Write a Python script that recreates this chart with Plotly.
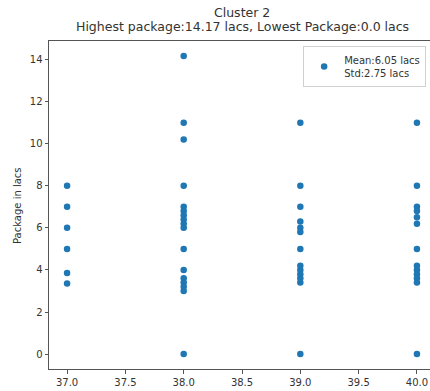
import plotly.graph_objects as go

# Data
age_37 = [8.0, 7.0, 6.0, 5.0, 3.85, 3.35]
age_38 = [14.17, 11.0, 10.2, 8.0, 7.0, 6.8, 6.6, 6.4, 6.2, 6.0, 5.0, 4.0, 3.6, 3.4, 3.2, 3.0, 0.0]
age_39 = [11.0, 8.0, 7.0, 6.3, 6.0, 5.8, 5.0, 4.2, 4.0, 3.8, 3.6, 3.4, 0.0]
age_40 = [11.0, 8.0, 7.0, 6.8, 6.5, 6.2, 5.0, 4.2, 4.0, 3.8, 3.6, 3.4, 0.0]
ages = [37.0, 38.0, 39.0, 40.0]
packages = [age_37, age_38, age_39, age_40]

xtick_vals = [37.0, 37.5, 38.0, 38.5, 39.0, 39.5, 40.0]
ytick_vals = [0, 2, 4, 6, 8, 10, 12, 14]

title_line1 = "Cluster 2"
title_line2 = "Highest package:14.17 lacs, Lowest Package:0.0 lacs"
legend_label = "Mean:6.05 lacs<br>Std:2.75 lacs"
ylabel = "Package in lacs"

xs, ys = [], []
for a, vals in zip(ages, packages):
    xs += [a] * len(vals)
    ys += vals

FONT = "DejaVu Sans"
fig = go.Figure()
fig.add_trace(go.Scatter(
    x=xs, y=ys, mode="markers", name=legend_label,
    marker=dict(color="#1f77b4", size=6.5, line=dict(width=0)),
))

fig.update_layout(
    width=430, height=391,
    margin=dict(l=49, r=0, t=41, b=22),
    paper_bgcolor="white", plot_bgcolor="white",
    font=dict(family=FONT, size=10, color="#333"),
    showlegend=True,
    legend=dict(
        x=0.667, xanchor="left", y=0.985, yanchor="top",
        bgcolor="rgba(255,255,255,0.8)", bordercolor="#d0d0d0", borderwidth=1,
        font=dict(family=FONT, size=10, color="#333"),
        itemsizing="trace",
    ),
    xaxis=dict(
        range=[36.845, 40.112], tickvals=xtick_vals, tickformat=".1f",
        showgrid=False, zeroline=False,
        showline=True, linecolor="#555", linewidth=1, mirror=True,
        ticks="outside", ticklen=3.5, tickwidth=0.8, tickcolor="#555",
        tickfont=dict(family=FONT, size=10, color="#333"),
    ),
    yaxis=dict(
        range=[-0.708, 14.88], tickvals=ytick_vals,
        showgrid=False, zeroline=False,
        showline=True, linecolor="#555", linewidth=1, mirror=False,
        ticks="outside", ticklen=3.5, tickwidth=0.8, tickcolor="#555",
        tickfont=dict(family=FONT, size=10, color="#333"),
    ),
    annotations=[
        dict(text=title_line1, xref="x", yref="paper", x=38.5, y=1.0884,
             xanchor="center", yanchor="middle", showarrow=False,
             font=dict(family=FONT, size=12.5, color="#333")),
        dict(text=title_line2, xref="x", yref="paper", x=38.5, y=1.0427,
             xanchor="center", yanchor="middle", showarrow=False,
             font=dict(family=FONT, size=12.5, color="#333")),
        dict(text=ylabel, xref="paper", yref="paper", x=-0.084, y=0.5,
             xanchor="center", yanchor="middle", textangle=-90, showarrow=False,
             font=dict(family=FONT, size=10, color="#333")),
    ],
)

fig.write_html("out.html")
